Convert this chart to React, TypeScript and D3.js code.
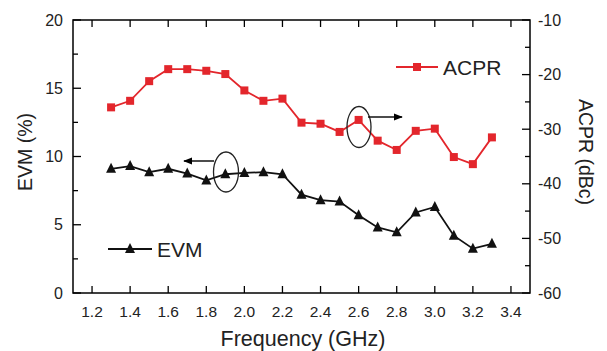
import React from "react";
import * as d3 from "d3";

const freqs = [1.3, 1.4, 1.5, 1.6, 1.7, 1.8, 1.9, 2.0, 2.1, 2.2, 2.3, 2.4, 2.5, 2.6, 2.7, 2.8, 2.9, 3.0, 3.1, 3.2, 3.3];
const evm = [9.1, 9.3, 8.85, 9.1, 8.75, 8.25, 8.7, 8.8, 8.85, 8.7, 7.2, 6.8, 6.7, 5.7, 4.8, 4.45, 5.9, 6.3, 4.2, 3.25, 3.6];
const acpr = [-26.0, -24.8, -21.2, -19.0, -19.0, -19.3, -19.9, -22.9, -24.8, -24.4, -28.8, -29.0, -30.5, -28.3, -32.1, -33.8, -30.3, -29.9, -35.1, -36.4, -31.5];
const xTicks = [1.2, 1.4, 1.6, 1.8, 2.0, 2.2, 2.4, 2.6, 2.8, 3.0, 3.2, 3.4];
const leftTicks = [0, 5, 10, 15, 20];
const leftMinor = [2.5, 7.5, 12.5, 17.5];
const rightTicks = [-60, -50, -40, -30, -20, -10];
const rightMinor = [-55, -45, -35, -25, -15];

const W = 607, H = 351;
const L = 73, R = 530, T = 20, B = 293;
const RED = "#e3262c";
const FONT = "'Liberation Sans', Arial, sans-serif";

export default function App() {
  const x = d3.scaleLinear().domain([1.1, 3.5]).range([L, R]);
  const yL = d3.scaleLinear().domain([0, 20]).range([B, T]);
  const yR = d3.scaleLinear().domain([-60, -10]).range([B, T]);
  const evmLine = d3.line<number>().x((_, i) => x(freqs[i])).y((d) => yL(d))(evm) || "";
  const acprLine = d3.line<number>().x((_, i) => x(freqs[i])).y((d) => yR(d))(acpr) || "";
  const tri = (cx: number, cy: number, s = 10) =>
    `M${cx},${cy - s * 0.6} L${cx + s / 2},${cy + s * 0.4} L${cx - s / 2},${cy + s * 0.4} Z`;
  const sq = 8;

  return (
    <svg width={W} height={H} style={{ position: "absolute", left: 0, top: 0, background: "#fff" }} fontFamily={FONT}>
      <defs>
        <marker id="ah" viewBox="0 0 10 10" refX="9" refY="5" markerWidth="6" markerHeight="6" orient="auto-start-reverse">
          <path d="M0,1 L10,5 L0,9 Z" fill="#000" />
        </marker>
      </defs>
      <rect x={0} y={0} width={W} height={H} fill="#fff" />
      {/* frame */}
      <rect x={L} y={T} width={R - L} height={B - T} fill="none" stroke="#000" strokeWidth={1.5} />
      {/* x ticks bottom and top */}
      {xTicks.map((t) => (
        <g key={"x" + t}>
          <line x1={x(t)} x2={x(t)} y1={B} y2={B - 7} stroke="#000" strokeWidth={1.3} />
          <line x1={x(t)} x2={x(t)} y1={T} y2={T + 7} stroke="#000" strokeWidth={1.3} />
          <text x={x(t)} y={317} textAnchor="middle" fontSize={15.5} fill="#222">{t.toFixed(1)}</text>
        </g>
      ))}
      {leftTicks.map((t) => (
        <g key={"l" + t}>
          <line x1={L} x2={L + 8} y1={yL(t)} y2={yL(t)} stroke="#000" strokeWidth={1.3} />
          <text x={63} y={yL(t) + 5.5} textAnchor="end" fontSize={16} fill="#222">{t}</text>
        </g>
      ))}
      {leftMinor.map((t) => (
        <line key={"lm" + t} x1={L} x2={L + 5} y1={yL(t)} y2={yL(t)} stroke="#000" strokeWidth={1.3} />
      ))}
      {rightTicks.map((t) => (
        <g key={"r" + t}>
          <line x1={R} x2={R - 8} y1={yR(t)} y2={yR(t)} stroke="#000" strokeWidth={1.3} />
          <text x={538} y={yR(t) + 5.5} textAnchor="start" fontSize={16} fill="#222">{t}</text>
        </g>
      ))}
      {rightMinor.map((t) => (
        <line key={"rm" + t} x1={R} x2={R - 5} y1={yR(t)} y2={yR(t)} stroke="#000" strokeWidth={1.3} />
      ))}
      {/* axis titles */}
      <text x={303} y={346} textAnchor="middle" fontSize={21.5} fill="#222">Frequency (GHz)</text>
      <text transform={`translate(32,152) rotate(-90)`} textAnchor="middle" fontSize={19.5} fill="#222">EVM (%)</text>
      <text transform={`translate(579,152) rotate(90)`} textAnchor="middle" fontSize={19.5} fill="#222">ACPR (dBc)</text>
      {/* series */}
      <path d={acprLine} fill="none" stroke={RED} strokeWidth={1.8} />
      {acpr.map((v, i) => (
        <rect key={"a" + i} x={x(freqs[i]) - sq / 2} y={yR(v) - sq / 2} width={sq} height={sq} fill={RED} />
      ))}
      <path d={evmLine} fill="none" stroke="#111" strokeWidth={1.8} />
      {evm.map((v, i) => (
        <path key={"e" + i} d={tri(x(freqs[i]), yL(v))} fill="#111" />
      ))}
      {/* annotations */}
      <ellipse cx={226} cy={172} rx={12.5} ry={20} fill="none" stroke="#222" strokeWidth={1.3} />
      <line x1={214} y1={161} x2={184} y2={161} stroke="#111" strokeWidth={1.5} markerEnd="url(#ah)" />
      <ellipse cx={359} cy={127} rx={12} ry={20.5} fill="none" stroke="#222" strokeWidth={1.3} />
      <line x1={368} y1={117} x2={402} y2={117} stroke="#111" strokeWidth={1.5} markerEnd="url(#ah)" />
      {/* legends */}
      <line x1={396} x2={438} y1={67} y2={67} stroke={RED} strokeWidth={1.8} />
      <rect x={417 - sq / 2} y={67 - sq / 2} width={sq} height={sq} fill={RED} />
      <text x={443} y={74.5} fontSize={21} fill="#222">ACPR</text>
      <line x1={108} x2={152} y1={249} y2={249} stroke="#111" strokeWidth={1.8} />
      <path d={tri(130, 249)} fill="#111" />
      <text x={157} y={257} fontSize={21} fill="#222">EVM</text>
    </svg>
  );
}
